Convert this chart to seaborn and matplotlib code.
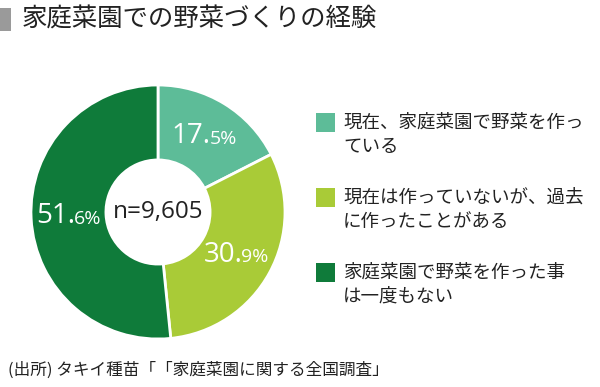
"""
家庭菜園での野菜づくりの経験 - donut chart
"""
import numpy as np
import matplotlib.pyplot as plt
import seaborn as sns
from matplotlib.patches import Rectangle

# Data
categories = [
    '現在、家庭菜園で野菜を作っ\nている',
    '現在は作っていないが、過去\nに作ったことがある',
    '家庭菜園で野菜を作った事\nは一度もない',
]
shares = [17.5, 30.9, 51.6]
colors = ['#5dbc98', '#a9cb37', '#0f7b3a']
title = '家庭菜園での野菜づくりの経験'
center_label = 'n=9,605'
source = '(出所) タキイ種苗「「家庭菜園に関する全国調査」'

sns.set_style("white")
plt.rcParams['font.family'] = ['Noto Sans CJK JP', 'DejaVu Sans']

fig = plt.figure(figsize=(6, 3.87), dpi=100)

# pie axes: centre at (158, 212) px, radius ~127 px
cx, cy, r = 158, 212, 127
ax = fig.add_axes([(cx - r) / 600, (387 - cy - r) / 387, 2 * r / 600, 2 * r / 387])

wedges, _ = ax.pie(
    shares,
    colors=sns.color_palette(colors),
    startangle=90,
    counterclock=False,
    wedgeprops=dict(width=0.59, edgecolor='white', linewidth=2),
    radius=1.0,
)
ax.set_xlim(-1, 1)
ax.set_ylim(-1, 1)
ax.set_aspect('equal')

# percentage labels: integer part large, decimals + % smaller
for w, v in zip(wedges, shares):
    ang = np.deg2rad((w.theta1 + w.theta2) / 2)
    x, y = 0.7 * np.cos(ang), 0.7 * np.sin(ang)
    whole, dec = f'{v:.1f}'.split('.')
    ax.text(x + 0.05, y, whole + '.', color='white', fontsize=20,
            ha='right', va='center', family=['Open Sans', 'DejaVu Sans'])
    ax.text(x + 0.04, y - 0.02, dec + '%', color='white', fontsize=14,
            ha='left', va='center', family=['Open Sans', 'DejaVu Sans'])

ax.text(0, 0, center_label, ha='center', va='center', fontsize=17.5,
        color='#222222', family=['Open Sans', 'DejaVu Sans'])

# title with gray bar
fig.add_artist(Rectangle((0, 1 - 31 / 387), 11 / 600, 23 / 387,
                         transform=fig.transFigure, color='#9a9a9a', lw=0))
fig.text(22 / 600, 1 - 20 / 387, title, fontsize=18.3, va='center',
         ha='left', color='#222222')

# legend (manual): square aligned with first line of each label
for i, (lab, col) in enumerate(zip(categories, colors)):
    ytop = 113 + i * 75
    fig.add_artist(Rectangle((316 / 600, 1 - (ytop + 19) / 387), 19 / 600, 19 / 387,
                             transform=fig.transFigure, color=col, lw=0))
    for j, line in enumerate(lab.split('\n')):
        fig.text(343 / 600, 1 - (ytop + 10 + j * 24) / 387, line, fontsize=13.3,
                 va='center', ha='left', color='#222222')

fig.text(8 / 600, 1 - 370 / 387, source, fontsize=12, va='center',
         ha='left', color='#222222')

plt.savefig('out.png', dpi=100)
